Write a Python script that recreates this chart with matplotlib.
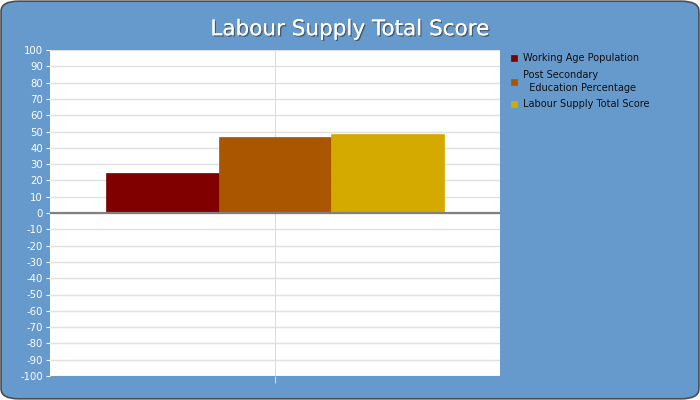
"""Labour supply score bar chart (Agg backend)."""

import matplotlib

matplotlib.use("Agg")
import matplotlib.pyplot as plt
import matplotlib.patheffects as pe
from matplotlib.patches import FancyBboxPatch

# series names and their single score each
series = ["Working Age Population", "Post Secondary\n  Education Percentage", "Labour Supply Total Score"]
scores = [24.3, 46.5, 48.6]
colors = ["#800000", "#aa5500", "#d4aa00"]
y_ticks = list(range(-100, 101, 10))

BG = "#6699cc"

fig = plt.figure(figsize=(7, 4), dpi=100)
fig.patch.set_facecolor("white")

# rounded blue panel behind everything
panel = FancyBboxPatch((0.0015, 0.003), 0.997, 0.994,
                       boxstyle="round,pad=0,rounding_size=0.025",
                       transform=fig.transFigure, facecolor=BG,
                       edgecolor="#4d4d4d", linewidth=1.2, zorder=-10)
fig.patches.append(panel)

ax = fig.add_axes([50 / 700, 24 / 400, 450 / 700, 326 / 400])
ax.set_facecolor("white")

width = 0.25
offsets = [-width, 0, width]
handles = []
for name, val, col, off in zip(series, scores, colors, offsets):
    h = ax.bar(off, val, width=width, color=col, edgecolor=col,
               linewidth=0.5, label=name, zorder=3)
    handles.append(h)

ax.set_xlim(-0.5, 0.5)
ax.set_ylim(-100, 100)
ax.set_yticks(y_ticks)
ax.set_yticklabels([str(v) for v in y_ticks])
ax.set_xticks([0])
ax.set_xticklabels([""])

ax.yaxis.grid(True, color="#e0e0e0", linewidth=1.0, zorder=0)
ax.xaxis.grid(True, color="#dcdcdc", linewidth=0.8, zorder=0)
ax.axhline(0, color="#808080", linewidth=1.6, zorder=4)

ax.tick_params(axis="y", colors="white", labelsize=7.3, length=3, width=0.8, pad=2)
ax.tick_params(axis="x", colors="#dcdcdc", length=5, width=0.8)
for sp in ax.spines.values():
    sp.set_visible(False)

fig.text(0.5, 0.927, "Labour Supply Total Score", ha="center", va="center",
         fontsize=15.5, color="white",
         path_effects=[pe.withSimplePatchShadow(offset=(1, -1), alpha=0.6,
                                                 shadow_rgbFace="#333333"),
                       pe.Normal()])

leg = ax.legend(handles=handles, loc="upper left", bbox_to_anchor=(1.005, 1.017),
                frameon=False, fontsize=7, handlelength=0.6, handleheight=0.6,
                handletextpad=0.6, labelspacing=0.65, labelcolor="#111111")
for t in leg.get_texts():
    t.set_linespacing(1.45)

fig.savefig("out.png", dpi=100, facecolor=fig.get_facecolor())
